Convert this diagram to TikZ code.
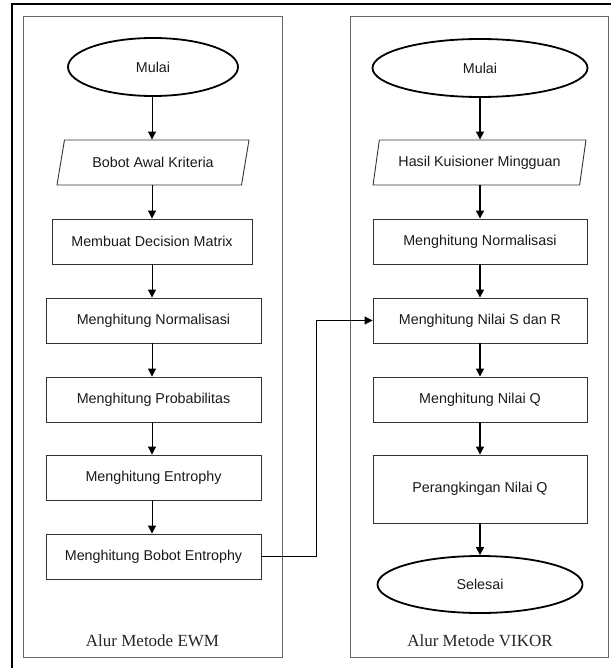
\documentclass[tikz,border=0pt]{standalone}
\usepackage{fontspec}
\setmainfont{Liberation Serif}
\newfontfamily\boxfont{Liberation Sans}
\usetikzlibrary{shapes.geometric,arrows.meta}
\begin{document}
\begin{tikzpicture}[x=1pt,y=-1pt,
  boxtext/.style={font=\boxfont\fontsize{14.3}{16}\selectfont,text=black!90},
  flowbox/.style={boxtext,draw=black!80,line width=0.9pt,rectangle,minimum height=45pt,inner sep=0pt},
  term/.style={boxtext,draw=black,line width=1.8pt,ellipse,minimum height=58pt,inner sep=0pt},
  io/.style={boxtext,draw=black!80,line width=0.9pt,trapezium,trapezium stretches=true,minimum height=45pt,inner sep=0pt},
  slant/.style={trapezium left angle=#1,trapezium right angle=180-#1},
  flow/.style={-{Triangle[length=8pt,width=8pt]},line width=1pt},
  flowthick/.style={flow,line width=1.3pt},
  panel/.style={draw=black!60,line width=1pt},
  caption/.style={font=\fontsize{17}{20}\selectfont,text=black!85}
]
\useasboundingbox (0,0) rectangle (611,668);

% outer frame (top and left edges)
\draw[line width=2pt] (611,4.5) -- (11.5,4.5) -- (11.5,668);

% the two lanes
\draw[panel] (23.5,16.5) rectangle (282.5,657.5);
\draw[panel] (350,16.5) rectangle (608,657.5);

% EWM lane
\node[term,minimum width=170pt] (e0) at (153,67) {Mulai};
\node[io,slant=64,minimum width=192pt] (e1) at (153,162.5) {Bobot Awal Kriteria};
\node[flowbox,minimum width=200pt] (e2) at (152,241.5) {Membuat Decision Matrix};
\node[flowbox,minimum width=215pt] (e3) at (153.5,320.5) {Menghitung Normalisasi};
\node[flowbox,minimum width=215pt] (e4) at (153.5,399.5) {Menghitung Probabilitas};
\node[flowbox,minimum width=215pt] (e5) at (153.5,477.5) {Menghitung Entrophy};
\node[flowbox,minimum width=215pt] (e6) at (153.5,556.5) {Menghitung Bobot Entrophy};
\node[caption] (ecap) at (152.5,641) {Alur Metode EWM};

% VIKOR lane
\node[term,minimum width=215pt] (v0) at (480,68) {Mulai};
\node[io,slant=69,minimum width=213pt] (v1) at (479.5,162.5) {Hasil Kuisioner Mingguan};
\node[flowbox,minimum width=214pt] (v2) at (480,241.5) {Menghitung Normalisasi};
\node[flowbox,minimum width=214pt] (v3) at (480,320.5) {Menghitung Nilai S dan R};
\node[flowbox,minimum width=214pt] (v4) at (480,399.5) {Menghitung Nilai Q};
\node[flowbox,minimum width=214pt,minimum height=68pt] (v5) at (480,489) {Perangkingan Nilai Q};
\node[term,minimum width=205pt,minimum height=57pt] (v6) at (480,584.5) {Selesai};
\node[caption] (vcap) at (480,641) {Alur Metode VIKOR};

% EWM flow
\draw[flow] (e0.south -| e2.north) -- (e1.north -| e2.north);
\draw[flow] (e1.south -| e2.north) -- (e2.north);
\draw[flow] (e2.south) -- (e3.north -| e2.south);
\draw[flow] (e3.south -| e2.south) -- (e4.north -| e2.south);
\draw[flow] (e4.south -| e2.south) -- (e5.north -| e2.south);
\draw[flow] (e5.south -| e2.south) -- (e6.north -| e2.south);

% VIKOR flow
\draw[flowthick] (v0.south -| v2.north) -- (v1.north -| v2.north);
\draw[flowthick] (v1.south -| v2.north) -- (v2.north);
\draw[flowthick] (v2) -- (v3);
\draw[flowthick] (v3) -- (v4);
\draw[flowthick] (v4) -- (v5);
\draw[flowthick] (v5) -- (v6);

% the EWM weights feed the S and R step
\coordinate (bend) at (316.7,556.5);
\draw[flow] (e6.east) -- (bend) |- (v3.west);
\end{tikzpicture}
\end{document}
